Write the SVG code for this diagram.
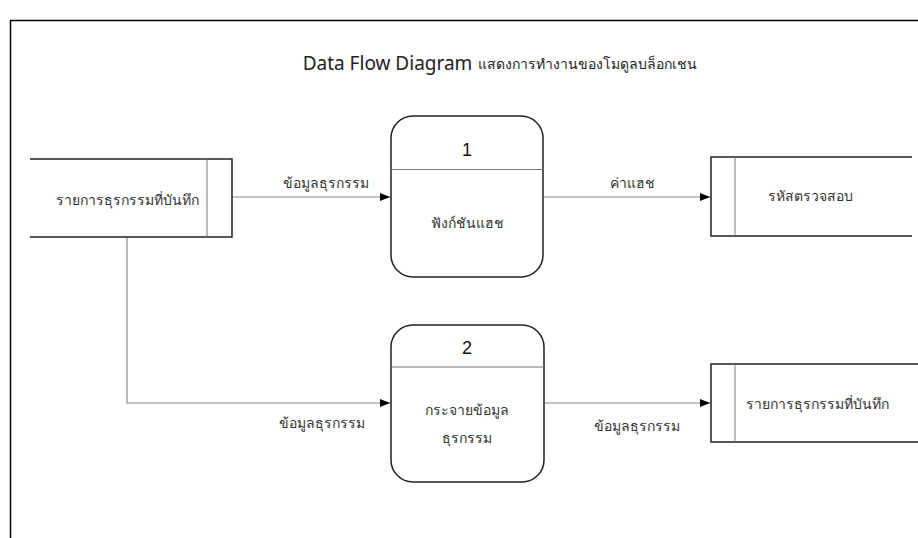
<svg xmlns="http://www.w3.org/2000/svg" width="918" height="538" viewBox="0 0 918 538">
  <style>
    .frame { fill: none; stroke: #000; stroke-width: 1.5; }
    .store { fill: none; stroke: #222; stroke-width: 1.5; }
    .divider { fill: none; stroke: #777; stroke-width: 1; }
    .proc { fill: #fff; stroke: #222; stroke-width: 1.5; }
    .flow { fill: none; stroke: #888; stroke-width: 1.2; }
    .t { font-family: "Noto Sans", "Liberation Sans", sans-serif; fill: #333; text-anchor: middle; dominant-baseline: central; }
    .lbl { font-size: 14px; }
    .num { font-family: "Liberation Sans", "Noto Sans", sans-serif; font-size: 18px; fill: #111; }
  </style>
  <defs>
    <marker id="arrow" viewBox="0 0 10 10" refX="10" refY="5" markerWidth="10" markerHeight="10" markerUnits="userSpaceOnUse" orient="auto">
      <path d="M0,1 L10,5 L0,9 Z" fill="#000"/>
    </marker>
  </defs>
  <rect width="918" height="538" fill="#fff"/>
  <!-- page frame -->
  <path class="frame" d="M10.5,538 V20.5 H918"/>
  <!-- title -->
  <text x="500" y="63" class="t" style="fill:#222"><tspan font-size="19">Data Flow Diagram</tspan><tspan font-size="14" dx="6">แสดงการทำงานของโมดูลบล็อกเชน</tspan></text>

  <!-- connectors -->
  <g id="connectors">
    <path class="flow" d="M232,197 H390" marker-end="url(#arrow)"/>
    <path class="flow" d="M544,197 H710" marker-end="url(#arrow)"/>
    <path class="flow" d="M127,237 V403 H390" marker-end="url(#arrow)"/>
    <path class="flow" d="M545,403 H710" marker-end="url(#arrow)"/>
    <text x="326" y="182" class="t lbl">ข้อมูลธุรกรรม</text>
    <text x="632" y="182" class="t lbl">ค่าแฮช</text>
    <text x="322" y="422" class="t lbl">ข้อมูลธุรกรรม</text>
    <text x="637" y="425" class="t lbl">ข้อมูลธุรกรรม</text>
  </g>

  <!-- data store: recorded transactions (source) -->
  <g id="store-source">
    <path class="store" d="M30,159 H232 V237 H30"/>
    <line class="divider" x1="207" y1="159" x2="207" y2="237"/>
    <text x="127" y="199" class="t lbl">รายการธุรกรรมที่บันทึก</text>
  </g>

  <!-- process 1: hash function -->
  <g id="process-1">
    <rect class="proc" x="391" y="116" width="152" height="161" rx="22"/>
    <line class="divider" x1="391" y1="169.5" x2="543" y2="169.5"/>
    <text x="467" y="150" class="t num">1</text>
    <text x="467" y="222" class="t lbl">ฟังก์ชันแฮช</text>
  </g>

  <!-- process 2: distribute transaction data -->
  <g id="process-2">
    <rect class="proc" x="391" y="325" width="153" height="157" rx="22"/>
    <line class="divider" x1="391" y1="367" x2="544" y2="367"/>
    <text x="467" y="348" class="t num">2</text>
    <text x="467" y="409" class="t lbl">กระจายข้อมูล</text>
    <text x="467" y="437" class="t lbl">ธุรกรรม</text>
  </g>

  <!-- data store: checksum -->
  <g id="store-checksum">
    <path class="store" d="M912,157 H711 V236 H912"/>
    <line class="divider" x1="735" y1="157" x2="735" y2="236"/>
    <text x="810" y="195" class="t lbl">รหัสตรวจสอบ</text>
  </g>

  <!-- data store: recorded transactions (destination) -->
  <g id="store-dest">
    <path class="store" d="M918,364 H711 V442 H918"/>
    <line class="divider" x1="735" y1="364" x2="735" y2="442"/>
    <text x="817" y="403" class="t lbl">รายการธุรกรรมที่บันทึก</text>
  </g>
</svg>
